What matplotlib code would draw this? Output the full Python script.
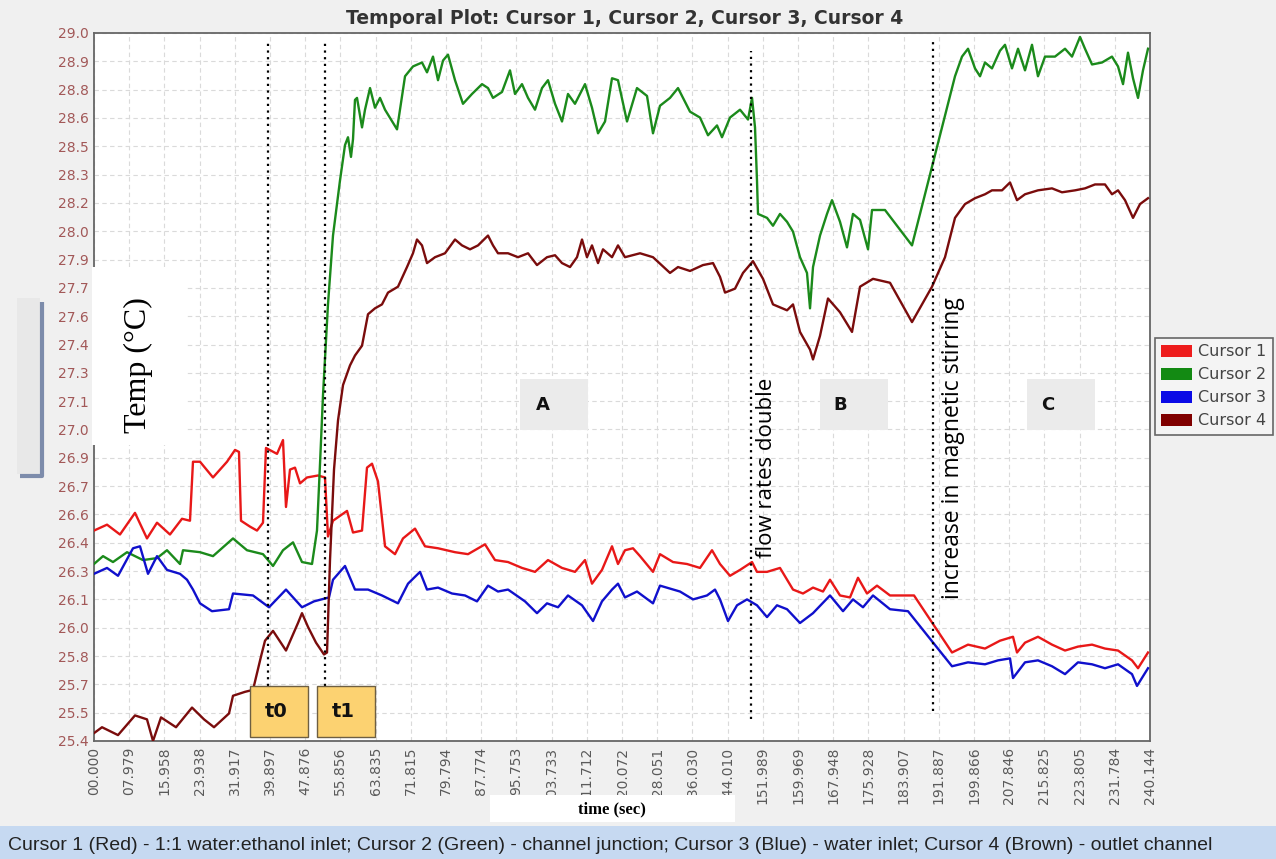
import numpy as np
import matplotlib
matplotlib.use("Agg")
import matplotlib.pyplot as plt
from matplotlib.patches import Rectangle, Patch

# temperature logs (time in s, temperature in deg C)
red_t = [0.00, 2.96, 5.91, 9.32, 12.05, 14.33, 17.28, 20.01, 21.83, 22.51, 24.11, 27.06, 30.25, 32.07,
         32.97, 33.43, 35.48, 37.07, 38.43, 39.11, 41.62, 42.98, 43.66, 44.57, 45.71, 46.85, 48.44, 50.94,
         52.53, 53.21, 54.35, 57.54, 58.90, 60.95, 62.08, 63.22, 64.58, 66.18, 68.45, 70.27, 73.00, 75.27,
         78.23, 82.10, 85.05, 88.92, 91.19, 94.15, 97.33, 100.29, 103.24, 106.43, 109.38, 111.66, 113.25,
         115.52, 117.80, 119.16, 120.75, 122.57, 124.17, 127.12, 128.71, 131.67, 134.85, 137.81, 140.54,
         142.36, 144.63, 146.91, 149.64, 150.77, 153.05, 156.00, 158.96, 161.23, 163.51, 165.78, 167.37,
         169.65, 171.92, 173.74, 175.79, 178.06, 181.02, 186.48, 195.12, 198.76, 202.62, 206.03, 208.99,
         209.90, 211.72, 214.67, 217.86, 220.82, 223.77, 226.96, 229.91, 232.87, 236.05, 237.42, 239.69]
red_v = [26.47, 26.50, 26.45, 26.56, 26.43, 26.51, 26.45, 26.53, 26.52, 26.82, 26.82, 26.74, 26.82, 26.88,
         26.87, 26.52, 26.49, 26.47, 26.51, 26.89, 26.86, 26.93, 26.59, 26.78, 26.79, 26.71, 26.74, 26.75,
         26.74, 26.44, 26.52, 26.57, 26.46, 26.47, 26.79, 26.81, 26.72, 26.39, 26.35, 26.43, 26.48, 26.39,
         26.38, 26.36, 26.35, 26.40, 26.32, 26.31, 26.28, 26.26, 26.32, 26.28, 26.26, 26.32, 26.20,
         26.27, 26.39, 26.30, 26.37, 26.38, 26.34, 26.26, 26.35, 26.31, 26.30, 26.28, 26.37,
         26.30, 26.24, 26.27, 26.31, 26.26, 26.26, 26.28, 26.17, 26.15, 26.18, 26.16, 26.22,
         26.14, 26.13, 26.23, 26.15, 26.19, 26.14, 26.14, 25.85, 25.89, 25.87, 25.91, 25.93,
         25.85, 25.90, 25.93, 25.89, 25.86, 25.88, 25.89, 25.87, 25.86, 25.81, 25.77, 25.85]

green_t = [0.00, 2.05, 4.32, 7.51, 11.14, 14.33, 16.60, 19.56, 20.24, 24.11, 27.06, 31.61, 34.79, 38.43,
           40.71, 42.98, 45.26, 47.30, 49.58, 50.71, 51.40, 52.08, 53.21, 54.35, 55.94, 57.08, 57.76, 58.44,
           58.90, 59.35, 59.81, 60.95, 61.63, 62.77, 63.90, 65.04, 66.18, 68.91, 70.73, 72.54, 74.59, 75.73,
           77.09, 78.23, 79.37, 80.50, 82.10, 83.91, 85.96, 88.24, 89.60, 90.74, 92.78, 94.60, 95.74, 97.33,
           98.70, 100.29, 101.88, 103.24, 104.84, 106.43, 107.79, 109.38, 111.66, 113.25, 114.62, 116.21,
           117.80, 119.16, 121.21, 123.48, 125.76, 127.12, 128.71, 130.99, 132.81, 135.54, 137.81, 139.63,
           141.68, 142.81, 144.63, 146.91, 148.73, 149.64, 150.32, 150.77, 151.00, 153.05, 154.41, 156.00,
           157.60, 158.96, 160.55, 162.14, 162.83, 163.51, 165.10, 166.69, 167.83, 169.65, 171.24, 172.60,
           174.20, 176.02, 176.93, 179.88, 186.02, 195.80, 197.39, 198.76, 200.35, 201.49, 202.62, 204.21,
           206.03, 207.17, 208.76, 210.13, 211.72, 213.31, 214.67, 216.27, 218.54, 220.82, 222.41, 224.23,
           225.36, 226.96, 229.23, 231.50, 232.87, 234.01, 235.14, 236.28, 237.42, 238.55, 239.69]
green_v = [26.30, 26.34, 26.31, 26.36, 26.32, 26.33, 26.37, 26.30, 26.37, 26.36, 26.34, 26.43, 26.37, 26.35,
           26.29, 26.37, 26.41, 26.31, 26.30, 26.47, 26.81, 27.16, 27.62, 27.97, 28.25, 28.43, 28.47, 28.37,
           28.46, 28.66, 28.67, 28.52, 28.61, 28.72, 28.62, 28.67, 28.61, 28.51, 28.78, 28.83, 28.85, 28.80,
           28.88, 28.76, 28.86, 28.89, 28.76, 28.64, 28.69, 28.74, 28.72, 28.67, 28.70, 28.81, 28.69, 28.74,
           28.67, 28.61, 28.72, 28.76, 28.64, 28.55, 28.69, 28.64, 28.74, 28.62, 28.49, 28.55,
           28.77, 28.76, 28.55, 28.72, 28.68, 28.49, 28.63, 28.67, 28.72, 28.60, 28.57, 28.48,
           28.53, 28.47, 28.57, 28.61, 28.56, 28.67, 28.52, 28.25, 28.08, 28.06, 28.02, 28.08,
           28.04, 27.99, 27.86, 27.78, 27.60, 27.81, 27.97, 28.08, 28.15, 28.04, 27.91, 28.08,
           28.05, 27.90, 28.10, 28.10, 27.92, 28.78, 28.88, 28.92, 28.82, 28.78, 28.85, 28.82,
           28.91, 28.94, 28.82, 28.92, 28.81, 28.94, 28.78, 28.88, 28.88, 28.92, 28.88, 28.98,
           28.92, 28.84, 28.85, 28.88, 28.83, 28.74, 28.90, 28.77, 28.67, 28.81, 28.92]

blue_t = [0.00, 2.96, 5.46, 8.87, 10.46, 12.28, 14.33, 16.60, 19.56, 21.15, 22.51, 24.11, 26.83, 30.70,
          31.61, 36.16, 39.80, 43.66, 47.30, 50.03, 53.44, 54.35, 57.08, 59.35, 62.31, 65.49, 69.13, 71.41,
          74.14, 75.73, 78.23, 81.41, 84.37, 87.10, 89.60, 91.87, 94.15, 98.01, 100.74, 103.02, 105.52,
          107.79, 110.98, 113.48, 115.52, 117.80, 119.16, 120.75, 123.48, 127.12, 128.71, 133.26, 136.22,
          139.40, 141.22, 142.36, 144.18, 146.23, 148.50, 150.77, 153.05, 155.32, 157.60, 160.55, 163.51,
          167.37, 170.33, 172.60, 174.88, 177.15, 181.02, 185.11, 195.12, 198.76, 202.62, 205.58, 208.31,
          208.99, 211.72, 214.67, 217.86, 220.82, 223.77, 226.96, 229.91, 232.87, 236.05, 237.19, 239.69]
blue_v = [26.25, 26.28, 26.24, 26.38, 26.39, 26.25, 26.34, 26.27, 26.25, 26.22, 26.17, 26.10, 26.06, 26.07,
          26.15, 26.14, 26.08, 26.17, 26.08, 26.11, 26.13, 26.22, 26.29, 26.17, 26.17, 26.14, 26.10, 26.20,
          26.26, 26.17, 26.18, 26.15, 26.14, 26.11, 26.19, 26.16, 26.17, 26.11, 26.05, 26.10, 26.08,
          26.14, 26.09, 26.01, 26.11, 26.17, 26.20, 26.13, 26.16, 26.10, 26.19, 26.16, 26.12,
          26.14, 26.17, 26.12, 26.01, 26.09, 26.12, 26.09, 26.03, 26.09, 26.07, 26.00, 26.05,
          26.14, 26.06, 26.12, 26.08, 26.14, 26.07, 26.06, 25.78, 25.80, 25.79, 25.81, 25.82,
          25.72, 25.80, 25.81, 25.78, 25.74, 25.80, 25.79, 25.77, 25.79, 25.74, 25.68, 25.77]

brown_t = [0.00, 1.82, 5.46, 9.32, 12.05, 13.42, 15.24, 18.65, 22.29, 25.02, 27.29, 30.70, 31.61, 34.34,
           36.16, 37.98, 38.89, 40.71, 43.66, 46.39, 47.30, 48.67, 50.49, 52.30, 52.99, 53.67, 54.58, 55.49,
           56.63, 58.22, 59.35, 60.95, 62.31, 63.90, 65.49, 66.86, 69.13, 71.18, 72.54, 73.45, 74.59, 75.73,
           77.55, 79.82, 82.10, 83.69, 85.51, 87.33, 89.60, 90.74, 91.87, 94.15, 96.42, 98.70, 100.74,
           103.02, 104.84, 106.43, 108.25, 109.84, 110.98, 112.11, 113.25, 114.62, 115.75, 117.80, 119.16,
           120.75, 124.17, 127.12, 130.99, 132.81, 135.54, 138.49, 140.77, 142.36, 143.50, 145.77, 147.59,
           149.86, 152.14, 154.41, 157.60, 158.96, 160.55, 162.83, 163.51, 165.10, 166.92, 169.65, 172.38,
           174.20, 177.15, 181.02, 186.02, 190.57, 193.53, 195.80, 198.07, 200.35, 202.62, 204.21, 206.49,
           208.31, 209.90, 211.72, 214.67, 217.86, 220.13, 223.09, 225.36, 227.64, 229.91, 231.50, 232.87,
           234.46, 236.28, 237.87, 239.69]
brown_v = [25.44, 25.47, 25.43, 25.53, 25.51, 25.40, 25.52, 25.47, 25.57, 25.51, 25.47, 25.54, 25.63, 25.65,
           25.66, 25.83, 25.91, 25.96, 25.86, 26.00, 26.05, 25.98, 25.90, 25.84, 25.85, 26.32, 26.78, 27.03,
           27.21, 27.31, 27.36, 27.41, 27.57, 27.60, 27.62, 27.68, 27.71, 27.81, 27.88, 27.95, 27.92, 27.83,
           27.86, 27.88, 27.95, 27.92, 27.90, 27.92, 27.97, 27.92, 27.88, 27.88, 27.86, 27.88, 27.82,
           27.86, 27.87, 27.83, 27.81, 27.86, 27.95, 27.86, 27.92, 27.83, 27.90, 27.86, 27.92,
           27.86, 27.88, 27.86, 27.78, 27.81, 27.79, 27.82, 27.83, 27.76, 27.68, 27.70, 27.78,
           27.84, 27.75, 27.62, 27.59, 27.62, 27.48, 27.39, 27.34, 27.46, 27.65, 27.58, 27.48,
           27.71, 27.75, 27.73, 27.53, 27.71, 27.86, 28.06, 28.13, 28.16, 28.18, 28.20, 28.20,
           28.24, 28.15, 28.18, 28.20, 28.21, 28.19, 28.20, 28.21, 28.23, 28.23, 28.18, 28.20,
           28.15, 28.06, 28.13, 28.16]

x_labels = ["00.000", "07.979", "15.958", "23.938", "31.917", "39.897", "47.876", "55.856", "63.835",
            "71.815", "79.794", "87.774", "95.753", "103.733", "111.712", "120.072", "128.051", "136.030",
            "144.010", "151.989", "159.969", "167.948", "175.928", "183.907", "191.887", "199.866",
            "207.846", "215.825", "223.805", "231.784", "240.144"]
y_labels = ["25.4", "25.5", "25.7", "25.8", "26.0", "26.1", "26.3", "26.4", "26.6", "26.7", "26.9",
            "27.0", "27.1", "27.3", "27.4", "27.6", "27.7", "27.9", "28.0", "28.2", "28.3", "28.5",
            "28.6", "28.8", "28.9", "29.0"]

# event markers: (time, top, bottom)
events = [(39.57, 28.96, 25.68), (52.53, 28.96, 25.68), (149.41, 28.91, 25.51), (190.80, 28.96, 25.55)]

W, H = 1276, 859
def fx(px):
    return px / W
def fy(py):
    return 1 - py / H

fig = plt.figure(figsize=(W / 100, H / 100), dpi=100, facecolor="#f0f0f0")
ax = fig.add_axes([fx(94), fy(741), fx(1150) - fx(94), fy(33) - fy(741)])
ax.set_facecolor("white")

ax.plot(red_t, red_v, color="#e81818", lw=1.7, label="Cursor 1", zorder=3)
ax.plot(green_t, green_v, color="#1b8a1b", lw=1.7, label="Cursor 2", zorder=3)
ax.plot(blue_t, blue_v, color="#1010cc", lw=1.7, label="Cursor 3", zorder=3)
ax.plot(brown_t, brown_v, color="#7a0c0c", lw=1.7, label="Cursor 4", zorder=3)

ax.set_xlim(0, 240.144)
ax.set_ylim(25.4, 29.0)
ax.set_xticks(np.linspace(0, 240.144, len(x_labels)))
ax.set_xticklabels(x_labels, rotation=90)
ax.set_yticks(np.linspace(25.4, 29.0, len(y_labels)))
ax.set_yticklabels(y_labels)
ax.tick_params(axis="both", length=0, labelsize=10)
ax.tick_params(axis="x", labelcolor="#5a5a5a", pad=4)
ax.tick_params(axis="y", labelcolor="#a25858", pad=4)
ax.grid(True, color="#dadada", linestyle=(0, (4, 3)), linewidth=0.8)
ax.set_axisbelow(True)
for s in ax.spines.values():
    s.set_color("#666666")
    s.set_linewidth(1.3)

for t, top, bot in events:
    ax.plot([t, t], [bot, top], color="black", lw=1.6, linestyle=(0, (1, 2)), zorder=4)

# region labels
for x0, x1, xt, name in [(96.9, 112.3, 102.1, "A"), (165.1, 180.6, 169.6, "B"), (212.2, 227.6, 216.9, "C")]:
    ax.add_patch(Rectangle((x0, 26.98), x1 - x0, 0.26, facecolor="#ebebeb", edgecolor="none", zorder=2))
    ax.text(xt, 27.11, name, ha="center", va="center", fontsize=13, fontweight="bold", color="#111111", zorder=5)

# t0 / t1 boxes
for x0, x1, name in [(35.5, 48.7, "t0"), (50.7, 63.9, "t1")]:
    ax.add_patch(Rectangle((x0, 25.42), x1 - x0, 0.26, facecolor="#fcd271", edgecolor="#6e5f42",
                           lw=1.0, zorder=6))
    ax.text(x0 + 0.45 * (x1 - x0), 25.55, name, ha="center", va="center", fontsize=14,
            fontweight="bold", color="#111111", zorder=7)

ax.text(153.0, 26.79, "flow rates double", rotation=90, ha="center", va="center",
        fontsize=16, family="Open Sans", color="black", zorder=5)
ax.text(195.3, 26.89, "increase in magnetic stirring", rotation=90, ha="center", va="center",
        fontsize=16.5, family="Open Sans", color="black", zorder=5)

# legend
handles = [Patch(facecolor=c, edgecolor="none", label=l) for c, l in
           [("#ee1c1c", "Cursor 1"), ("#138a13", "Cursor 2"), ("#0a0ae6", "Cursor 3"), ("#800000", "Cursor 4")]]
leg = fig.legend(handles=handles, loc="upper left", bbox_to_anchor=(fx(1155), fy(338)),
                 fontsize=11.5, frameon=True, fancybox=False, edgecolor="#444444", facecolor="#f6f6f6",
                 handlelength=1.9, handleheight=0.8, handletextpad=0.4, borderpad=0.4, labelspacing=0.5,
                 borderaxespad=0, labelcolor="#444444")
leg.get_frame().set_linewidth(1.2)

fig.text(fx(625), fy(18), "Temporal Plot: Cursor 1, Cursor 2, Cursor 3, Cursor 4", ha="center", va="center",
         fontsize=13.5, fontweight="bold", color="#333333")

# y-axis label panel
fig.add_artist(Rectangle((fx(92), fy(445)), fx(185) - fx(92), fy(267) - fy(445), transform=fig.transFigure,
                         facecolor="white", edgecolor="none", zorder=8))
fig.text(fx(138), fy(365), "Temp (°C)", rotation=90, ha="center", va="center", fontsize=23,
         family="Liberation Serif", color="black", zorder=9)

# side bracket
fig.add_artist(Rectangle((fx(17), fy(474)), fx(40) - fx(17), fy(298) - fy(474), transform=fig.transFigure,
                         facecolor="#e8e8e8", edgecolor="none", zorder=1))
fig.add_artist(plt.Line2D([fx(41.5), fx(41.5), fx(20)], [fy(302), fy(476), fy(476)], transform=fig.transFigure,
                          color="#7d8cab", lw=3, solid_capstyle="butt", zorder=2))

# x-axis label panel
fig.add_artist(Rectangle((fx(490), fy(822)), fx(735) - fx(490), fy(795) - fy(822), transform=fig.transFigure,
                         facecolor="white", edgecolor="none", zorder=8))
fig.text(fx(612), fy(809), "time (sec)", ha="center", va="center", fontsize=12, fontweight="bold",
         family="Liberation Serif", color="black", zorder=9)

# caption band
fig.add_artist(Rectangle((0, 0), 1, fy(826), transform=fig.transFigure, facecolor="#c6d9f1",
                         edgecolor="none", zorder=1))
fig.text(fx(8), fy(845), "Cursor 1 (Red) - 1:1 water:ethanol inlet; Cursor 2 (Green) - channel junction; "
         "Cursor 3 (Blue) - water inlet; Cursor 4 (Brown) - outlet channel", ha="left", va="center",
         fontsize=14.0, family="Liberation Sans", color="#222222", zorder=2)

fig.savefig("out.png", dpi=100, facecolor=fig.get_facecolor())
